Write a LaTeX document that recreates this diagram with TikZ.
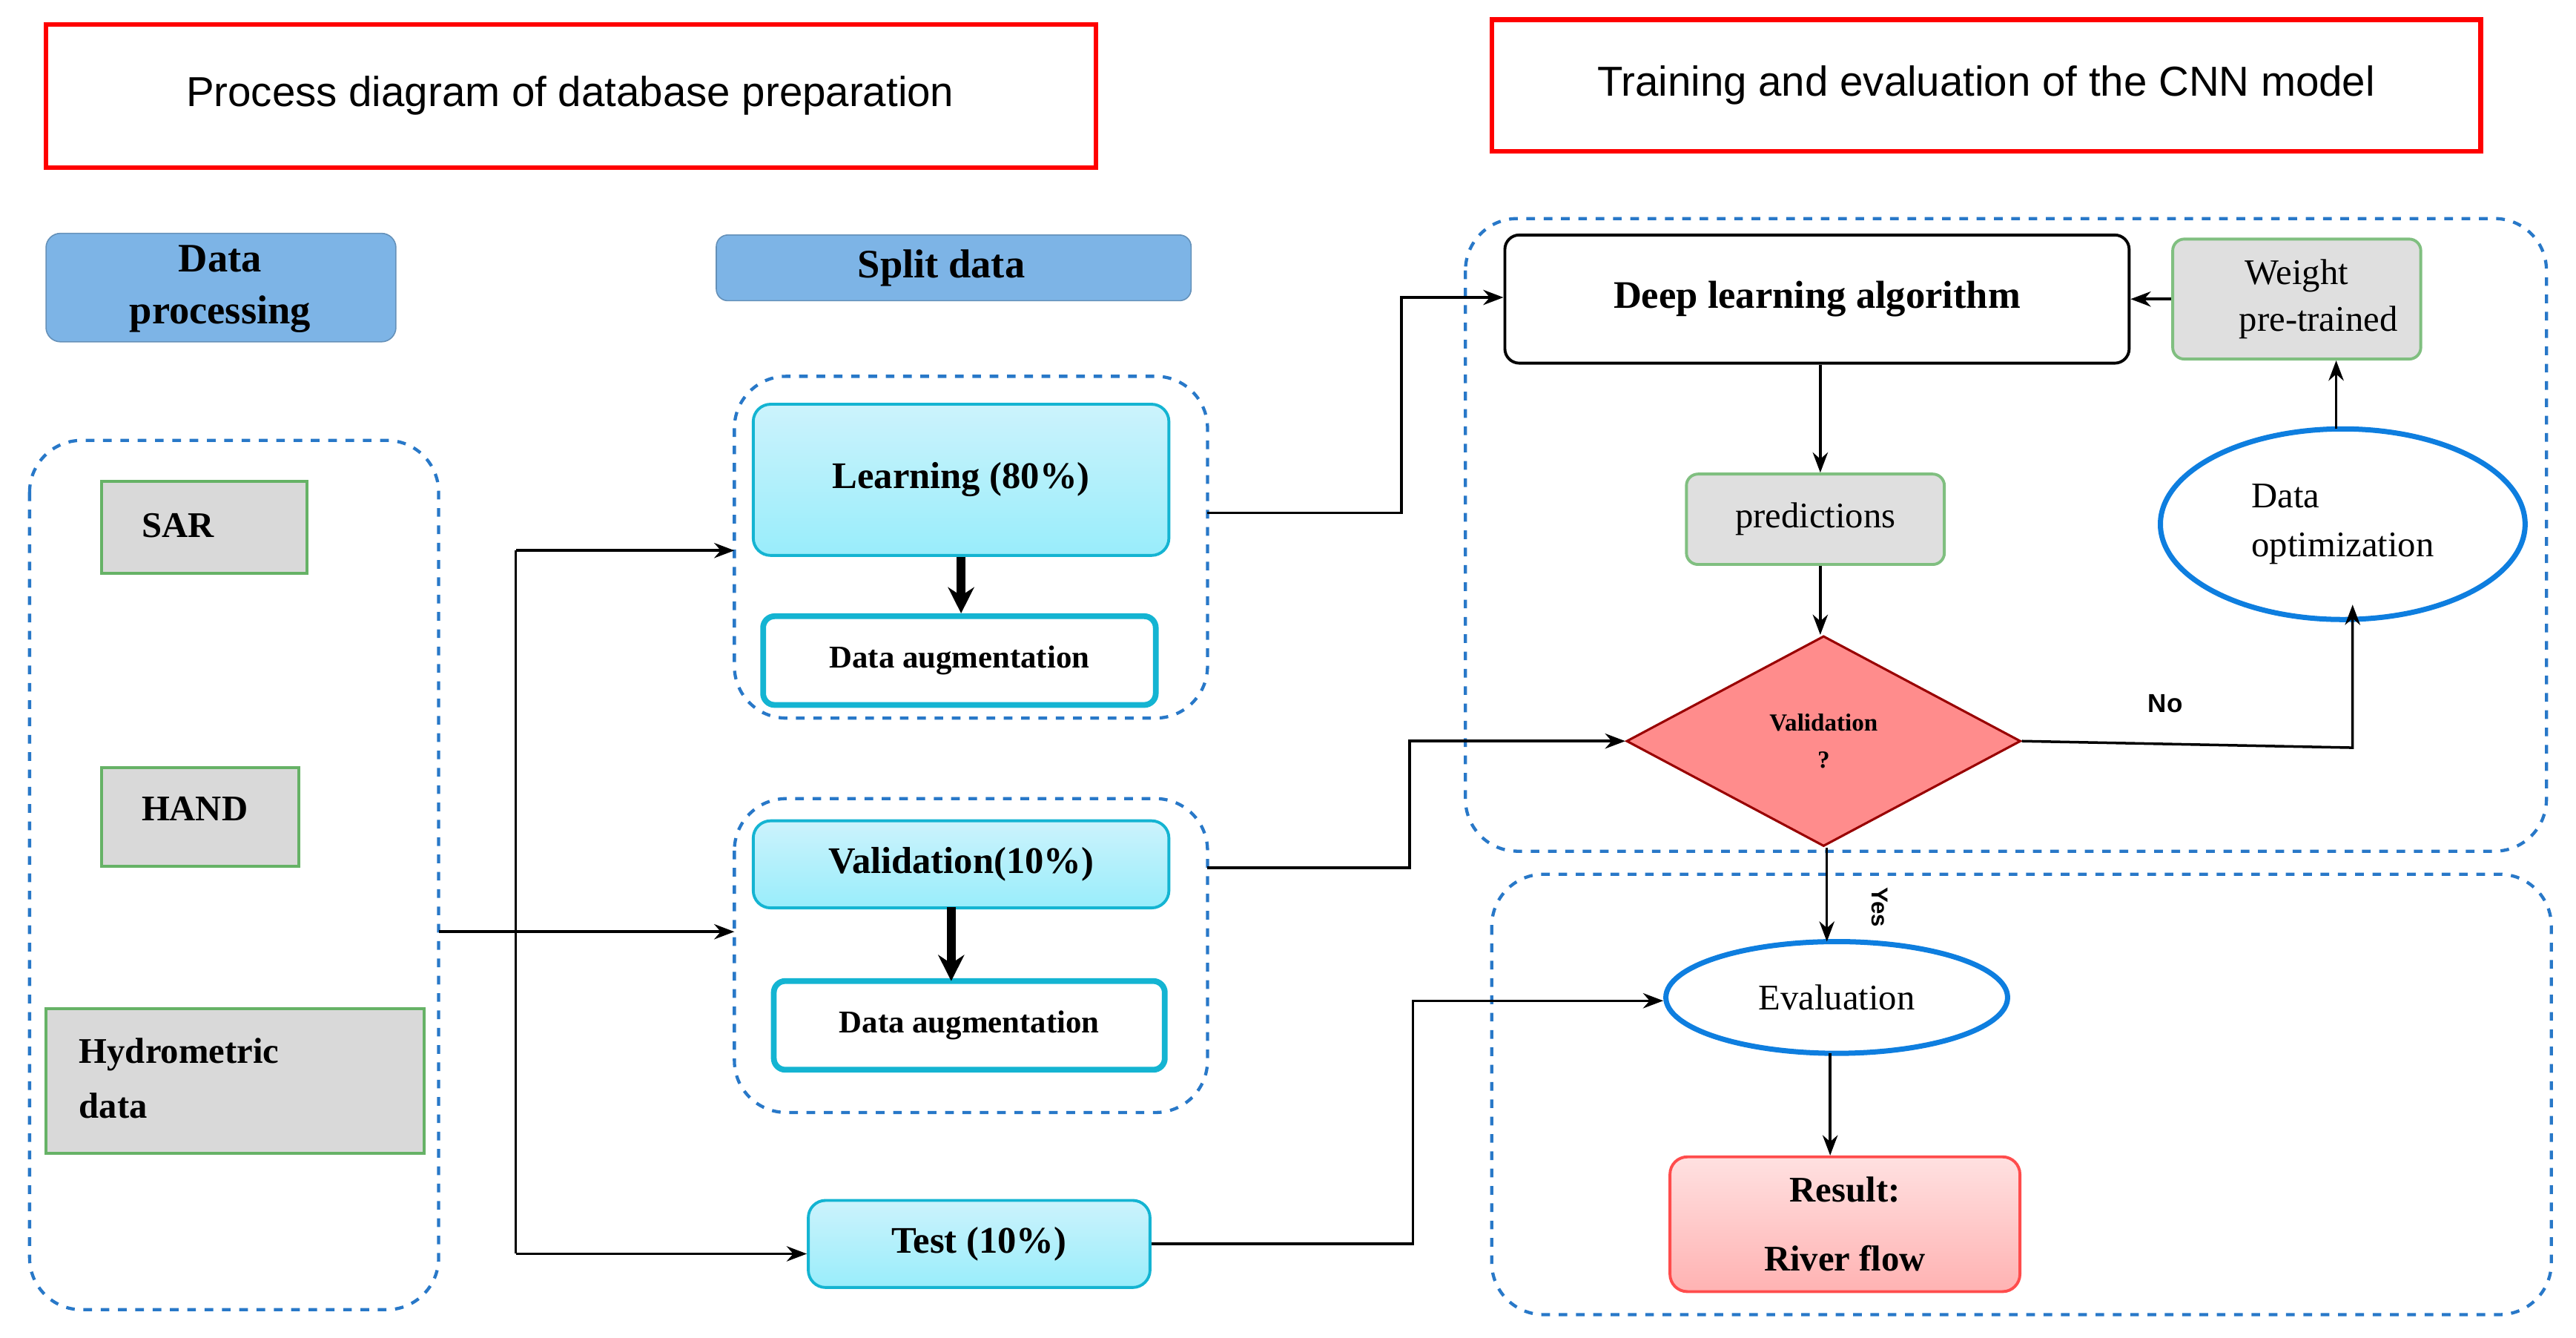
\documentclass[tikz,border=0pt]{standalone}
\usepackage{fontspec}
\setmainfont{Liberation Serif}
\setsansfont{Liberation Sans}
\usetikzlibrary{shapes.geometric,arrows.meta,calc}
\definecolor{hdrblue}{RGB}{125,180,230}
\definecolor{grpblue}{RGB}{40,120,200}
\definecolor{cyanbox}{RGB}{170,235,250}
\definecolor{cyanline}{RGB}{20,180,210}
\begin{document}
\begin{tikzpicture}[x=0.02cm,y=-0.02cm,
 redbox/.style={draw=red,line width=1.6pt,fill=white},
 grp/.style={draw=grpblue,dashed,line width=1.1pt,rounded corners=18pt},
 gbox/.style={draw=green!50!black!60,fill=gray!30,line width=1pt},
 cbox/.style={draw=cyanline,top color=cyanbox!60!white,bottom color=cyanbox!90!cyan,line width=1pt,rounded corners=6pt,font=\bfseries\fontsize{13}{16}\selectfont},
 wbox/.style={draw=cyanline,fill=white,line width=2pt,rounded corners=4pt,font=\bfseries\fontsize{11}{14}\selectfont},
 arr/.style={-{Stealth[length=7pt]},line width=0.9pt},
 thick arr/.style={-{Stealth[length=9pt,width=9pt]},line width=3pt}]
\useasboundingbox (0,0) rectangle (1568,814);
\fill[white] (0,0) rectangle (1568,814);
% titles
\draw[redbox] (28,15) rectangle (667,102);
\node[font=\sffamily\fontsize{14.5}{17}\selectfont] (t1) at (347,58) {Process diagram of database preparation};
\draw[redbox] (908,12) rectangle (1510,92);
\node[font=\sffamily\fontsize{14.5}{17}\selectfont] (t2) at (1209,52) {Training and evaluation of the CNN model};
% headers
\draw[draw=hdrblue!80!black,fill=hdrblue,rounded corners=5pt] (28,142) rectangle (241,208);
\node[font=\bfseries\fontsize{14}{18}\selectfont,align=center] (dpt) at (134,176) {Data\\processing};
\draw[draw=hdrblue!80!black,fill=hdrblue,rounded corners=4pt] (436,143) rectangle (725,183);
\node[font=\bfseries\fontsize{14}{17}\selectfont] (sd) at (573,163) {Split data};
% groups
\draw[grp] (18,268) rectangle (267,797);
\coordinate (L) at (267,567);
\draw[grp] (447,229) rectangle (735,437);
\draw[grp] (447,486) rectangle (735,677);
\draw[grp] (892,133) rectangle (1550,518);
\draw[grp] (908,532) rectangle (1553,800);
% left boxes
\draw[gbox] (62,293) rectangle (187,349);
\node[font=\bfseries\fontsize{12.5}{15}\selectfont,anchor=west] (sar) at (80,320) {SAR};
\draw[gbox] (62,467) rectangle (182,527);
\node[font=\bfseries\fontsize{12.5}{15}\selectfont,anchor=west] (hand) at (80,492) {HAND};
\draw[gbox] (28,614) rectangle (258,702);
\node[font=\bfseries\fontsize{12.5}{19}\selectfont,anchor=west,align=left] (hyd) at (42,656) {Hydrometric\\data};
% split boxes
\node[cbox,minimum width=253*0.02cm,minimum height=92*0.02cm] (learn) at (585,292) {Learning (80\%)};
\node[wbox,minimum width=239*0.02cm,minimum height=54*0.02cm] (da1) at (584,402) {Data augmentation};
\node[cbox,minimum width=253*0.02cm,minimum height=53*0.02cm] (val) at (585,526) {Validation(10\%)};
\node[wbox,minimum width=238*0.02cm,minimum height=54*0.02cm] (da2) at (590,624) {Data augmentation};
\node[cbox,minimum width=208*0.02cm,minimum height=53*0.02cm] (test) at (596,757) {Test (10\%)};
% right
\node[draw=black,line width=1pt,rounded corners=5pt,minimum width=380*0.02cm,minimum height=78*0.02cm,font=\bfseries\fontsize{13.5}{16}\selectfont] (dla) at (1106,182) {Deep learning algorithm};
\node[draw=green!50!black!50,fill=gray!25,line width=1pt,rounded corners=4pt,minimum width=151*0.02cm,minimum height=73*0.02cm,font=\fontsize{12.5}{16}\selectfont,align=center] (wt) at (1398,182) {Weight\\\hspace*{1.2em}pre-trained};
\node[draw=green!50!black!50,fill=gray!25,line width=1pt,rounded corners=4pt,minimum width=157*0.02cm,minimum height=55*0.02cm,font=\fontsize{12.5}{15}\selectfont] (pred) at (1105,316) {predictions};
\node[ellipse,draw=cyanline!70!blue,line width=1.8pt,fill=white,minimum width=222*0.02cm,minimum height=116*0.02cm,font=\fontsize{12.5}{17}\selectfont,align=left] (opt) at (1426,319) {Data\\optimization};
\node[diamond,draw=red!60!black,fill=red!45,line width=0.8pt,minimum width=240*0.02cm,minimum height=128*0.02cm,aspect=1.875,inner sep=0pt] (valid) at (1110,451) {};
\node[font=\bfseries\fontsize{8.5}{13}\selectfont,align=center] at (1110,451) {Validation\\?};
\node[ellipse,draw=cyanline!70!blue,line width=1.8pt,fill=white,minimum width=208*0.02cm,minimum height=68*0.02cm,font=\fontsize{12.5}{15}\selectfont] (eval) at (1118,607) {Evaluation};
\node[draw=red!70,top color=red!12,bottom color=red!30,line width=1pt,rounded corners=6pt,minimum width=213*0.02cm,minimum height=82*0.02cm,font=\bfseries\fontsize{12.5}{24}\selectfont,align=center] (res) at (1123,745) {Result:\\River flow};
\node[font=\sffamily\bfseries\fontsize{9}{11}\selectfont] (no) at (1318,428) {No};
\node[font=\sffamily\bfseries\fontsize{8}{10}\selectfont,rotate=-90] (yes) at (1144,552) {Yes};
% connectors
\draw[line width=0.9pt] (L) -- (314,567);
\draw[line width=0.9pt] (314,335) -- (314,763);
\draw[arr] (314,567) -- (447,567);
\draw[arr] (314,335) -- (447,335);
\draw[arr] (314,763) -- (test.west |- 0,763);
\draw[arr] (735,312) -- (853,312) -- (853,181) -- (dla.west |- 0,181);
\draw[arr] (735,528) -- (858,528) -- (858,451) -- (valid.west);
\draw[arr] (test.east) -- (860,757) -- (860,609) -- (eval.west |- 0,609);
\draw[arr] (dla.south -| 1108,0) -- (pred.north -| 1108,0);
\draw[arr] (pred.south -| 1108,0) -- (valid.north -| 1108,0);
\draw[arr] (valid.east) -- (1432,455) -- (1432,368);
\draw[arr] (1422,261) -- (wt.south -| 1422,0);
\draw[arr] (wt.west) -- (dla.east);
\draw[arr] (valid.south -| 1112,0) -- (1112,573);
\draw[arr] (1114,641) -- (res.north -| 1114,0);
\draw[thick arr] (learn.south) -- (da1.north -| learn.south);
\draw[thick arr] (579,552) -- (579,597);
\end{tikzpicture}
\end{document}
